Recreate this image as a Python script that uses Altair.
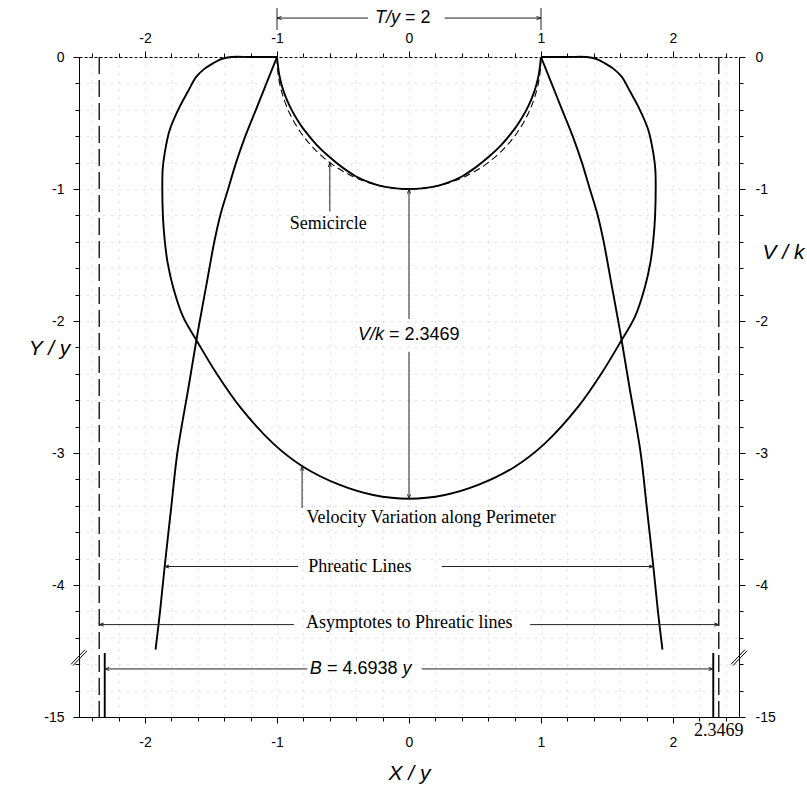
import altair as alt
import numpy as np
import pandas as pd

# ---------------------------------------------------------------
# Channel perimeter for T/y = 2 (left lip -> bottom -> right lip)
# ---------------------------------------------------------------
perim_x = [-1.0, -0.98, -0.95, -0.9, -0.85, -0.8, -0.7, -0.6, -0.5, -0.4, -0.3, -0.2, -0.1, 0.0,
           0.1, 0.2, 0.3, 0.4, 0.5, 0.6, 0.7, 0.8, 0.85, 0.9, 0.95, 0.98, 1.0]
perim_y = [0.0, -0.15, -0.26, -0.38, -0.47, -0.545, -0.665, -0.76, -0.84, -0.905, -0.95, -0.98, -0.995, -1.0,
           -0.995, -0.98, -0.95, -0.905, -0.84, -0.76, -0.665, -0.545, -0.47, -0.38, -0.26, -0.15, 0.0]

# Velocity variation along the perimeter (V/k laid off along the normals)
vel_x = [-1.0, -1.2, -1.345, -1.42, -1.485, -1.55, -1.611, -1.674, -1.737, -1.813, -1.851, -1.866,
         -1.869, -1.864, -1.851, -1.83, -1.788, -1.712, -1.611, -1.459, -1.282, -1.03, -0.802, -0.524,
         -0.271, 0.0,
         0.271, 0.524, 0.802, 1.03, 1.282, 1.459, 1.611, 1.712, 1.788, 1.83, 1.851, 1.864, 1.869, 1.866,
         1.851, 1.813, 1.737, 1.674, 1.611, 1.55, 1.485, 1.42, 1.345, 1.2, 1.0]
vel_y = [0.0, 0.0, 0.0, -0.015, -0.048, -0.09, -0.149, -0.26, -0.376, -0.553, -0.73, -0.85,
         -0.98, -1.21, -1.386, -1.55, -1.74, -1.967, -2.144, -2.396, -2.649, -2.927, -3.104, -3.242,
         -3.318, -3.3469,
         -3.318, -3.242, -3.104, -2.927, -2.649, -2.396, -2.144, -1.967, -1.74, -1.55, -1.386, -1.21, -0.98, -0.85,
         -0.73, -0.553, -0.376, -0.26, -0.149, -0.09, -0.048, -0.015, 0.0, 0.0, 0.0]

# Phreatic lines on the two banks
phr_y = [0.0, -0.2, -0.4, -0.6, -0.8, -1.0, -1.2, -1.4, -1.7, -2.0, -2.14, -2.5, -3.0, -3.4, -3.86, -4.2, -4.49]
phr_left_x = [-1.0, -1.08, -1.16, -1.24, -1.31, -1.37, -1.43, -1.475, -1.53, -1.585, -1.61, -1.67, -1.755,
              -1.80, -1.851, -1.886, -1.92]
phr_right_x = [1.0, 1.08, 1.16, 1.24, 1.31, 1.37, 1.43, 1.475, 1.53, 1.585, 1.61, 1.67, 1.755,
               1.80, 1.851, 1.886, 1.92]

# Asymptotes x = +-B/2 and the phreatic lines far down (y = -15 on the broken axis)
asym_x = [-2.3469, 2.3469]
deep_x = [-2.305, 2.305]
deep_top = -4.515
axis_bottom = -5.0          # plotted position of the "-15" level
break_y = -4.55             # axis break marks

# Annotation leaders: start (x1, y1) -> end (x2, y2); head drawn at the end
lead_x1 = [-1.0, 1.0, -0.31, 0.27, -0.6, 0.0, 0.0, -0.81, -0.84, 0.248, -0.872, 0.918, -0.77, 0.096]
lead_y1 = [0.205, 0.205, 0.295, 0.295, -1.17, -1.985, -2.233, -3.417, -3.86, -3.86, -4.30, -4.30, -4.636, -4.636]
lead_x2 = [-1.0, 1.0, -1.0, 1.0, -0.6, 0.0, 0.0, -0.81, -1.851, 1.851, -2.3469, 2.3469, -2.305, 2.305]
lead_y2 = [0.371, 0.371, 0.295, 0.295, -0.80, -1.0, -3.3469, -3.10, -3.86, -3.86, -4.30, -4.30, -4.636, -4.636]
lead_head = ["", "", "left", "right", "up", "up", "down", "up", "left", "right", "left", "right", "left", "right"]

# Text annotations
serif_text = ["Semicircle", "Velocity Variation along Perimeter", "Phreatic Lines", "Asymptotes to Phreatic lines"]
serif_x = [-0.903, -0.776, -0.764, -0.78]
serif_y = [-1.265, -3.49, -3.864, -4.29]

italic_text = ["T/y", "V/k", "B", "y"]
italic_x = [-0.258, -0.387, -0.751, -0.049]
italic_y = [0.295, -2.106, -4.636, -4.636]

plain_text = ["= 2", "= 2.3469", "= 4.6938"]
plain_x = [-0.030, -0.152, -0.622]
plain_y = [0.295, -2.106, -4.636]

extra_tick_value = 2.3469

# ---------------------------------------------------------------
W, H = 660, 660
xs = alt.Scale(domain=[-2.5, 2.5], nice=False, zero=False)
ys = alt.Scale(domain=[-5.0, 0.0], nice=False, zero=False)

x_ticks = [round(-2.4 + 0.2 * i, 1) for i in range(25)]
y_ticks = [round(-0.2 * i, 1) for i in range(26)]
MAJ = "abs(datum.value % 1) < 0.001"
x_lab = f"{MAJ} ? toString(datum.value) : ''"
y_lab = f"datum.value == -5 ? '-15' : ({MAJ} ? toString(datum.value) : '')"
SANS = "Liberation Sans"
SERIF = "Liberation Serif"


def axis(orient, values, expr, pad, grid=False, **kw):
    return alt.Axis(
        orient=orient, values=values, labelExpr=expr, labelPadding=pad,
        labelFont=SANS, labelFontSize=14, labelColor="black",
        labelOverlap=False, labelFlush=False,
        tickColor="black", tickWidth=1,
        tickSize={"condition": {"test": MAJ, "value": 6}, "value": 4},
        domainColor="black", domainWidth=1,
        grid=grid, gridColor="#a8a8a8", gridDash=[1, 7], gridWidth=0.8, gridOpacity=0.9,
        titleFont=SANS, titleFontSize=21, titleFontStyle="italic", titleFontWeight="normal",
        titleColor="black", **kw)


ax_bottom = axis("bottom", x_ticks, x_lab, 12, grid=True, title="X / y",
                 titleX=W / 2, titleY=56, titleBaseline="middle", titleAlign="center")
ax_left = axis("left", y_ticks, y_lab, 9, grid=True, title="Y / y", titleAngle=0,
               titleX=-30, titleY=291, titleBaseline="middle", titleAlign="center")
ax_top = axis("top", x_ticks, x_lab, 6, title=None, domainDash=[3, 2])
ax_right = axis("right", y_ticks, y_lab, 10, title="V / k", titleAngle=0,
                titleX=44, titleY=195, titleBaseline="middle", titleAlign="center")


def X(field="x", ax=None):
    return alt.X(f"{field}:Q", scale=xs, axis=ax)


def Y(field="y", ax=None):
    return alt.Y(f"{field}:Q", scale=ys, axis=ax)


def path_df(xv, yv, name):
    return pd.DataFrame({"x": xv, "y": yv, "i": range(len(xv)), "s": name})


# semicircle of unit radius (half width T/2 = 1)
theta = np.linspace(np.pi, 2 * np.pi, 73)
semi_df = path_df(np.cos(theta), np.sin(theta), "semi")

perim_df = path_df(perim_x, perim_y, "perimeter")
vel_df = path_df(vel_x, vel_y, "velocity")
phr_df = pd.concat([path_df(phr_left_x, phr_y, "left"), path_df(phr_right_x, phr_y, "right")])

asym_df = pd.DataFrame({"x": asym_x, "y": 0.0, "y2": axis_bottom})
deep_df = pd.DataFrame({"x": deep_x, "y": deep_top, "y2": axis_bottom})
lead_df = pd.DataFrame({"x": lead_x1, "y": lead_y1, "x2": lead_x2, "y2": lead_y2, "head": lead_head})

head_paths = {
    "up": "M-1,3L0,0L1,3",
    "down": "M-1,-3L0,0L1,-3",
    "left": "M3,-1L0,0L3,1",
    "right": "M-3,-1L0,0L-3,1",
}
head_df = lead_df[lead_df["head"] != ""].copy()
head_df["shape"] = head_df["head"].map(head_paths)

break_df = pd.DataFrame({"x": [-2.5, 2.5], "y": [break_y, break_y]})
break_shape = "M-1,0.85L0.75,-1M-0.75,1L1,-0.85"

# ---------------------------------------------------------------
base_line = dict(interpolate="catmull-rom", color="black", strokeWidth=1.9)

perimeter = alt.Chart(perim_df).mark_line(**base_line).encode(
    x=X(ax=ax_bottom), y=Y(ax=ax_left), order="i:Q")

velocity = alt.Chart(vel_df).mark_line(**base_line).encode(
    x=X(ax=ax_top), y=Y(ax=ax_right), order="i:Q")

semicircle = alt.Chart(semi_df).mark_line(color="black", strokeWidth=1.1, strokeDash=[7, 4]).encode(
    x=X(), y=Y(), order="i:Q")

phreatic = alt.Chart(phr_df).mark_line(**base_line).encode(
    x=X(), y=Y(), detail="s:N", order="i:Q")

asymptotes = alt.Chart(asym_df).mark_rule(color="black", strokeWidth=1.3, strokeDash=[17, 6]).encode(
    x=X(), y=Y(), y2="y2:Q")

deep = alt.Chart(deep_df).mark_rule(color="black", strokeWidth=1.9).encode(
    x=X(), y=Y(), y2="y2:Q")

leaders = alt.Chart(lead_df).mark_rule(color="#222222", strokeWidth=1).encode(
    x=X(), y=Y(), x2="x2:Q", y2="y2:Q")

heads = alt.Chart(head_df).mark_point(filled=False, color="#222222", strokeWidth=1, size=9, opacity=1).encode(
    x=X("x2"), y=Y("y2"), shape=alt.Shape("shape:N", scale=None))

breaks = alt.Chart(break_df).mark_point(filled=False, color="black", strokeWidth=1, size=256, opacity=1,
                                        shape=break_shape).encode(x=X(), y=Y())

serif_labels = alt.Chart(pd.DataFrame({"x": serif_x, "y": serif_y, "t": serif_text})).mark_text(
    font=SERIF, fontSize=18, align="left", baseline="middle", color="black").encode(
    x=X(), y=Y(), text="t:N")

italic_labels = alt.Chart(pd.DataFrame({"x": italic_x, "y": italic_y, "t": italic_text})).mark_text(
    font=SANS, fontSize=18, fontStyle="italic", align="left", baseline="middle", color="black").encode(
    x=X(), y=Y(), text="t:N")

plain_labels = alt.Chart(pd.DataFrame({"x": plain_x, "y": plain_y, "t": plain_text})).mark_text(
    font=SANS, fontSize=18, align="left", baseline="middle", color="black").encode(
    x=X(), y=Y(), text="t:N")

tick_label = alt.Chart(pd.DataFrame({"x": [extra_tick_value], "t": [f"{extra_tick_value}"]})).mark_text(
    font=SERIF, fontSize=18, align="center", baseline="middle", color="black").encode(
    x=X(), y=alt.value(H + 14), text="t:N")

chart = alt.layer(
    perimeter, velocity, semicircle, phreatic, asymptotes, deep, leaders, heads, breaks,
    serif_labels, italic_labels, plain_labels, tick_label,
).resolve_axis(x="independent", y="independent").properties(
    width=W, height=H,
    autosize=alt.AutoSizeParams(type="none"),
    padding={"left": 79, "top": 57, "right": 68, "bottom": 70},
    background="white",
).configure_view(stroke=None)

chart.save("out.html", embed_options={"renderer": "svg", "actions": False})
